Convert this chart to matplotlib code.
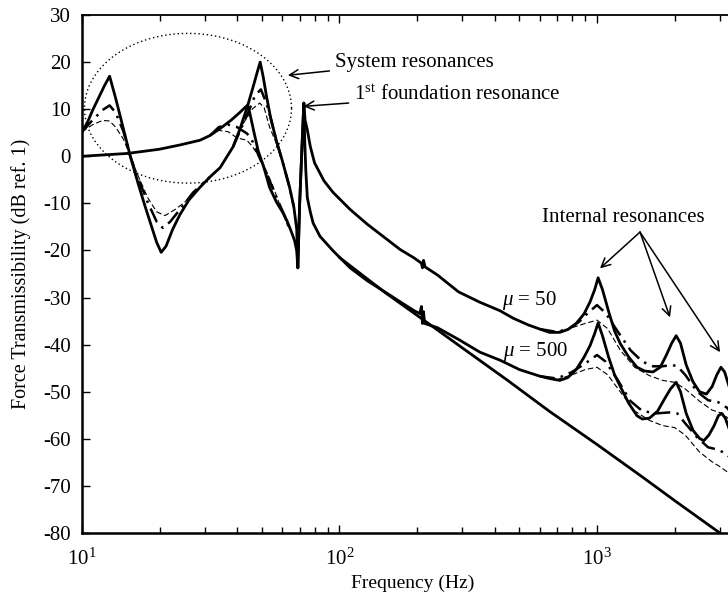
import numpy as np
import matplotlib
matplotlib.use("Agg")
import matplotlib.pyplot as plt
from matplotlib.ticker import LogLocator

plt.rcParams['font.family'] = ['Liberation Serif', 'DejaVu Serif']
plt.rcParams['mathtext.fontset'] = 'custom'
plt.rcParams['mathtext.rm'] = 'Liberation Serif'
plt.rcParams['mathtext.it'] = 'Liberation Serif:italic'
plt.rcParams['axes.unicode_minus'] = False

nan = np.nan

# ---- data (frequency in Hz, transmissibility in dB) ----
# mu = 50 family, undamped (solid)
A_f = [10, 10.5, 11, 11.6, 12.2, 12.8, 13.5, 14.5, 15.4, 16.5, 17.5, 18.5, 19.5, 20.3, 21.2,
       22.5, 24, 26, 28.7, 31.4, 34.4, 38.6, 41, 43.8, 46, 48, 49.2, 50.5, 52, 54, 57, 60,
       64, 66.5, 68.2, 68.9, 70, 71.5, 72.7, 73.5, 75, 77, 80, 87, 94.5, 110, 128, 150, 172,
       195, 208, 210, 212, 215, 240, 290, 351, 420, 473, 540, 600, 655, 717, 770, 830, 890,
       940, 980, 1010, 1050, 1110, 1170, 1232, 1330, 1430, 1530, 1650, 1760, 1860, 1950,
       2030, 2110, 2220, 2360, 2500, 2660, 2800, 2920, 3030, 3130, 3280, 3450, 3700]
A_db = [5.2, 7.2, 9.8, 12.4, 14.9, 17.0, 12.4, 5.7, 0.0, -5.7, -10.3, -14.4, -18.3, -20.4, -19.1,
        -15.5, -12.4, -9.3, -6.6, -4.4, -2.4, 2.0, 5.7, 10.4, 14.4, 18.0, 20.0, 17.0, 12.9, 8.2, 3.1, -1.0,
        -6.6, -10.8, -15.5, -23.7, -10.3, 2.1, 11.3, 7.7, 5.6, 2.1, -1.4, -5.2, -7.7, -11.3, -14.4, -17.3, -19.8,
        -21.6, -22.7, -23.7, -22.1, -23.5, -25.2, -28.8, -31.0, -32.8, -34.4, -35.8, -36.7, -37.4, -37.4, -36.8, -35.5, -33.5,
        -30.9, -28.3, -25.8, -28.3, -33.0, -37.1, -39.8, -42.7, -44.8, -45.6, -45.8, -44.8, -42.2, -39.7,
        -38.1, -39.7, -44.3, -47.9, -50.0, -50.5, -48.9, -46.4, -44.8, -45.8, -49.4, -53.6, -58.7]

# mu = 500 family, undamped (solid)
B_f = [10, 15, 20, 24, 28.7, 31.4, 35, 38, 41, 43.8, 44.8, 46.5, 48.3, 51, 53.5, 57, 60, 62.4,
       65, 67, 68.2, 68.9, 70, 71.5, 72.7, 73.3, 74, 75, 77, 79, 84, 94.5, 110, 128, 150, 172,
       195, 205, 208, 210, 212, 214, 240, 290, 351, 420, 500, 600, 655, 717, 770, 830, 890,
       940, 980, 1010, 1050, 1110, 1170, 1232, 1330, 1430, 1500, 1600, 1720, 1830, 1930,
       2030, 2110, 2220, 2360, 2500, 2600, 2720, 2850, 2960, 3050, 3150, 3300, 3500, 3700]
B_db = [0.0, 0.6, 1.5, 2.4, 3.4, 4.4, 6.2, 7.7, 9.3, 10.8, 9.3, 5.2, 1.2, -2.6, -6.6, -9.8, -11.8, -13.6,
        -16.0, -18.0, -20.1, -23.7, -10.3, 2.1, 11.3, 3.1, -3.1, -8.8, -11.8, -14.2, -17.0, -20.1, -23.7, -26.4, -28.8, -30.9,
        -32.8, -33.4, -31.9, -35.5, -33.0, -35.5, -36.4, -38.9, -41.6, -43.3, -45.3, -46.7, -47.2, -47.6, -47.0, -45.3, -42.7,
        -40.2, -37.6, -35.4, -38.1, -42.7, -46.4, -48.9, -52.5, -55.1, -55.8, -55.6, -54.1, -51.5, -49.4,
        -48.0, -50.0, -54.6, -58.2, -59.9, -60.4, -59.2, -57.2, -55.1, -54.6, -55.6, -58.7, -62.8, -67.0]

# rigid-foundation reference (solid straight line)
C_f = [100, 150, 210, 300, 450, 655, 1000, 1500, 2000, 3000, 3700]
C_db = [-21.5, -28.9, -34.6, -40.7, -47.6, -54.2, -61.2, -68.1, -73.1, -80.0, -83.6]

# damped variants (dash-dot = medium damping, dashed = high damping); NaN splits segments
A_dd_f = [10, 11, 12, 12.8, 13.5, 14.5, 15.4, 16.5, 18, 19.5, 20.6, 22, 24, 27, 31.4, nan,
          38.6, 43.8, 47, 49.5, 52, 54, 57, 60, 64, 66.5, nan,
          600, 700, 780, 850, 920, 1000, 1080, 1200, 1350, 1500, 1650, 1800, 1950, 2050, 2200,
          2450, 2700, 2950, 3200, 3500, 3700]
A_dd_db = [5.2, 7.7, 9.8, 10.8, 9.3, 5.2, 0.0, -4.6, -9.8, -13.9, -15.2, -13.9, -11.3, -7.7, -4.4, nan,
           2.0, 8.8, 12.9, 14.2, 11.3, 8.2, 3.1, -1.0, -6.6, -10.8, nan,
           -36.7, -37.3, -36.6, -35.2, -33.3, -31.6, -33.3, -37.1, -41.2, -43.6, -44.6, -44.6, -44.3, -44.6, -46.4,
           -50.0, -51.8, -52.2, -53.4, -56.1, -58.2]

A_da_f = [10, 11, 12, 12.8, 13.5, 14.5, 15.4, 16.5, 18, 19.5, 21, 23, 25, 28, 31.4, nan,
          38.6, 42, 46, 49, 51, 53.5, 57, 60, 64, nan,
          600, 700, 800, 900, 1000, 1100, 1232, 1400, 1600, 1800, 2000, 2200, 2500, 2800, 3070, 3300, 3700]
A_da_db = [5.2, 6.7, 7.6, 7.5, 6.2, 3.6, 0.0, -4.1, -8.8, -11.8, -12.6, -11.3, -9.8, -7.2, -4.4, nan,
           2.0, 6.7, 10.1, 11.3, 10.3, 6.2, 2.6, -1.0, -6.6, nan,
           -36.7, -37.3, -36.4, -35.5, -34.8, -36.6, -41.2, -44.8, -46.6, -47.6, -48.0, -49.4, -52.0, -53.9, -54.6, -56.1, -58.7]

B_dd_f = [31.4, 34, 37, 40, 43.8, 46, 49, 53, 57, 62.4, nan,
          600, 700, 800, 900, 1000, 1080, 1200, 1350, 1500, 1700, 1900, 2050, 2200, 2450, 2700,
          2950, 3200, 3500, 3700]
B_dd_db = [4.4, 6.2, 6.7, 6.2, 4.8, 3.1, -0.4, -4.6, -8.8, -13.6, nan,
           -46.7, -47.2, -45.8, -44.0, -42.2, -43.6, -47.4, -52.0, -54.1, -54.6, -54.4, -54.6, -56.7, -59.7, -61.8,
           -62.3, -63.3, -65.9, -68.0]

B_da_f = [31.4, 34, 37, 40, 43.7, 46, 50.4, 55, 60, 63, nan,
          600, 700, 800, 900, 1000, 1100, 1250, 1400, 1600, 1800, 2000, 2200, 2500, 2800, 3000, 3300, 3700]
B_da_db = [4.4, 5.5, 5.2, 3.9, 3.4, 2.0, -1.4, -6.2, -11.8, -14.9, nan,
           -46.7, -47.4, -46.4, -45.3, -44.8, -46.4, -50.5, -54.1, -56.1, -57.2, -57.6, -59.2, -62.8, -64.9, -65.9, -67.5, -70.0]

yticks = [-80, -70, -60, -50, -40, -30, -20, -10, 0, 10, 20, 30]

# ---- figure ----
W, H = 728, 599
fig = plt.figure(figsize=(W / 100, H / 100), dpi=100)
xmin, xmax = 10, 3700
dec_px = 257.5
ax_w = (np.log10(xmax) - np.log10(xmin)) * dec_px
top_px, bot_px = 15, 533
ax = fig.add_axes([82 / W, (H - bot_px) / H, ax_w / W, (bot_px - top_px) / H])
ax.set_xscale('log')
ax.set_xlim(xmin, xmax)
ax.set_ylim(-80, 30)

k = 'black'
ax.plot(A_f, A_db, color=k, lw=2.0, solid_joinstyle='round')
ax.plot(B_f, B_db, color=k, lw=2.0, solid_joinstyle='round')
ax.plot(C_f, C_db, color=k, lw=2.0)
ax.plot(A_dd_f, A_dd_db, color=k, lw=1.8, ls=(0, (6, 2.5, 1, 2.5)))
ax.plot(B_dd_f, B_dd_db, color=k, lw=1.8, ls=(0, (6, 2.5, 1, 2.5)))
ax.plot(A_da_f, A_da_db, color=k, lw=0.8, ls=(0, (5, 2.5)))
ax.plot(B_da_f, B_da_db, color=k, lw=0.8, ls=(0, (5, 2.5)))

# dotted ellipse around the system resonances (drawn in log-f / dB space)
t = np.linspace(0, 2 * np.pi, 300)
ell_cf, ell_af = np.log10(25.8), 0.402
ell_cy, ell_by = 10.2, 15.9
ax.plot(10 ** (ell_cf + ell_af * np.cos(t)), ell_cy + ell_by * np.sin(t),
        color=k, lw=1.0, ls=(0, (1, 2)))

# axes styling
ax.set_yticks(yticks)
ax.set_yticklabels([str(v) for v in yticks])
ax.xaxis.set_major_locator(LogLocator(base=10, numticks=10))
ax.xaxis.set_minor_locator(LogLocator(base=10, subs=np.arange(2, 10), numticks=20))
ax.tick_params(which='both', direction='in', top=True, right=False, labelsize=15,
               width=1.0, colors=k)
ax.tick_params(which='major', length=6)
ax.tick_params(which='minor', length=4)
ax.tick_params(axis='x', pad=11)
ax.tick_params(axis='y', pad=8)
for s in ['left', 'bottom']:
    ax.spines[s].set_linewidth(1.8)
ax.spines['top'].set_linewidth(1.3)
ax.spines['right'].set_visible(False)

ax.set_xlabel('Frequency (Hz)', fontsize=14, labelpad=4)
ax.set_ylabel('Force Transmissibility (dB ref. 1)', fontsize=14.5, labelpad=9)

fs = 15
arrow = dict(arrowstyle='->', color=k, lw=1.1, shrinkA=2, shrinkB=0, mutation_scale=16)
ax.annotate('System resonances', xy=(63, 17.2), xytext=(96, 20.0),
            fontsize=fs, va='center', ha='left', arrowprops=arrow)
ax.annotate('1$^{\\mathrm{st}}$ foundation resonance', xy=(72.5, 10.6), xytext=(114, 13.0),
            fontsize=fs, va='center', ha='left', arrowprops=arrow)
ax.text(1262, -13.0, 'Internal resonances', fontsize=fs, ha='center', va='center')
for tip in [(1027, -23.8), (1921, -34.2), (3006, -41.6)]:
    ax.annotate('', xy=tip, xytext=(1469, -16.1), arrowprops=dict(arrowstyle='->', color=k,
                lw=1.1, shrinkA=0, shrinkB=0, mutation_scale=16))
ax.text(427, -30.6, '$\\mu$ = 50', fontsize=fs, ha='left', va='center')
ax.text(431, -41.4, '$\\mu$ = 500', fontsize=fs, ha='left', va='center')

fig.savefig('out.png', dpi=100)
